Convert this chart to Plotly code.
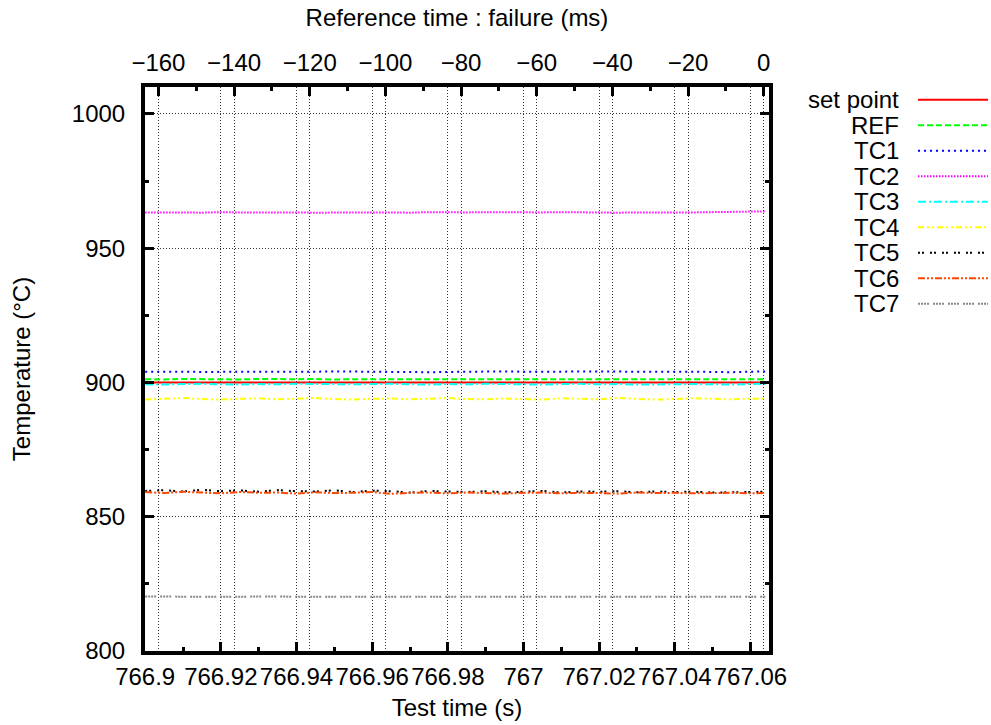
import plotly.graph_objects as go

# ---------------- data ----------------
test_time_s = [766.900, 766.905, 766.910, 766.915, 766.920, 766.925, 766.930, 766.935,
               766.940, 766.945, 766.950, 766.955, 766.960, 766.965, 766.970, 766.975,
               766.980, 766.985, 766.990, 766.995, 767.000, 767.005, 767.010, 767.015,
               767.020, 767.025, 767.030, 767.035, 767.040, 767.045, 767.050, 767.055,
               767.060, 767.064]
failure_time_s = 767.0635

set_point = [900.0] * 34
ref = [901.2, 901.1, 901.3, 901.2, 901.2, 901.1, 901.3, 901.2, 901.2, 901.3, 901.1, 901.2,
       901.2, 901.3, 901.2, 901.1, 901.2, 901.3, 901.2, 901.2, 901.1, 901.2, 901.3, 901.2,
       901.2, 901.1, 901.3, 901.2, 901.2, 901.3, 901.2, 901.1, 901.2, 901.2]
tc1 = [904.0, 904.1, 904.0, 903.9, 904.0, 904.1, 904.0, 904.0, 903.9, 904.0, 904.1, 904.0,
       903.9, 903.8, 903.7, 903.8, 903.9, 904.0, 904.0, 904.1, 904.0, 903.9, 904.0, 904.1,
       904.0, 903.9, 904.0, 904.0, 904.1, 904.0, 903.9, 903.8, 904.0, 904.1]
tc2 = [963.3, 963.4, 963.3, 963.2, 963.4, 963.3, 963.3, 963.5, 963.3, 963.2, 963.3, 963.4,
       963.3, 963.3, 963.2, 963.4, 963.3, 963.3, 963.4, 963.3, 963.2, 963.3, 963.4, 963.3,
       963.3, 963.2, 963.3, 963.4, 963.3, 963.3, 963.4, 963.5, 963.6, 963.7]
tc3 = [899.3, 899.2, 899.4, 899.5, 899.3, 899.2, 899.4, 899.3, 899.5, 899.4, 899.2, 899.3,
       899.4, 899.5, 899.3, 899.2, 899.4, 899.3, 899.5, 899.4, 899.3, 899.2, 899.4, 899.5,
       899.3, 899.4, 899.2, 899.3, 899.5, 899.4, 899.3, 899.2, 899.4, 899.5]
tc4 = [893.6, 893.9, 894.2, 893.8, 893.6, 893.9, 894.1, 893.7, 893.9, 894.2, 893.8, 893.6,
       893.9, 894.0, 893.7, 893.9, 894.2, 893.8, 893.7, 894.0, 893.8, 893.6, 894.1, 893.9,
       893.7, 894.2, 893.9, 893.6, 893.8, 894.1, 893.9, 893.7, 893.9, 894.0]
tc5 = [859.6, 859.9, 859.4, 860.0, 859.5, 859.8, 859.3, 859.9, 859.5, 859.4, 859.8, 859.2,
       859.7, 859.5, 859.0, 859.6, 859.4, 859.2, 859.5, 859.1, 859.3, 859.6, 859.0, 859.4,
       859.3, 859.5, 859.1, 859.4, 859.2, 859.3, 859.0, 859.2, 859.4, 859.3]
tc6 = [859.2, 858.8, 859.3, 859.0, 858.7, 859.2, 858.9, 859.0, 858.6, 859.1, 858.8, 858.9,
       859.2, 858.5, 858.9, 859.0, 858.7, 859.0, 858.8, 858.6, 858.9, 859.0, 858.7, 858.9,
       858.8, 858.6, 859.0, 858.8, 858.9, 858.7, 858.8, 858.9, 858.7, 858.8]
tc7 = [820.3, 820.2, 820.3, 820.2, 820.2, 820.3, 820.2, 820.3, 820.2, 820.2, 820.3, 820.2,
       820.2, 820.3, 820.2, 820.2, 820.3, 820.2, 820.3, 820.2, 820.2, 820.3, 820.2, 820.2,
       820.3, 820.2, 820.3, 820.2, 820.2, 820.3, 820.2, 820.2, 820.3, 820.2]

series_names = ["set point", "REF", "TC1", "TC2", "TC3", "TC4", "TC5", "TC6", "TC7"]
series_values = [set_point, ref, tc1, tc2, tc3, tc4, tc5, tc6, tc7]

bottom_tick_vals = [766.90, 766.92, 766.94, 766.96, 766.98, 767.00, 767.02, 767.04, 767.06]
bottom_tick_text = ["766.9", "766.92", "766.94", "766.96", "766.98", "767", "767.02", "767.04", "767.06"]
top_tick_vals = [-160, -140, -120, -100, -80, -60, -40, -20, 0]
top_tick_text = ["\u2212160", "\u2212140", "\u2212120", "\u2212100", "\u221280", "\u221260",
                 "\u221240", "\u221220", "0"]
y_tick_vals = [800, 850, 900, 950, 1000]

# ---------------- styles ----------------
colors = ["#ff0000", "#00ff00", "#0000ff", "#ff00ff", "#00ffff", "#ffff00", "#000000",
          "#ff4500", "#888888"]
dashes = ["solid", "6px,3px", "2px,4px", "1.5px,1.5px", "8px,3px,2px,3px",
          "6px,3px,2px,3px,2px,3px", "2px,2px,2px,6px", "7px,2px,2px,2px,2px,2px",
          "2px,1px,2px,1px,2px,1px,2px,4px"]

FONT = "Liberation Sans, Arial, Helvetica, sans-serif"
FS = 24

x_range = [766.89995, 767.0649]
ms_range = [(x_range[0] - failure_time_s) * 1000, (x_range[1] - failure_time_s) * 1000]

fig = go.Figure()
for name, vals, col, dsh in zip(series_names, series_values, colors, dashes):
    fig.add_trace(go.Scatter(x=test_time_s, y=vals, mode="lines", name=name,
                             line=dict(color=col, width=2, dash=dsh),
                             showlegend=False, xaxis="x", yaxis="y"))

# trace on the top (reference-time) axis so it renders
ref_ms = [(t - failure_time_s) * 1000 for t in test_time_s]
fig.add_trace(go.Scatter(x=ref_ms, y=set_point, mode="lines", line=dict(width=0, color="rgba(0,0,0,0)"),
                         hoverinfo="skip", showlegend=False, xaxis="x2", yaxis="y"))

# ---------------- legend (gnuplot style: text left, sample right) ----------------
L, R, T, B = 145, 222, 87, 74
W = 991 - L - R
H = 725 - T - B
def px_x(p):
    return (p - L) / W
def px_y(p):
    return (725 - B - p) / H

for i, (name, col, dsh) in enumerate(zip(series_names, colors, dashes)):
    py = 99.7 + 25.5 * i
    fig.add_annotation(x=px_x(901), y=px_y(py), xref="paper", yref="paper",
                       text=name, showarrow=False, xanchor="right", yanchor="middle",
                       font=dict(family=FONT, size=FS, color="black"))
    fig.add_shape(type="line", xref="paper", yref="paper",
                  x0=px_x(918), x1=px_x(988), y0=px_y(py), y1=px_y(py),
                  line=dict(color=col, width=2, dash=dsh))

grid_col = "#333333"
grid_dash = "1px,2px"
fig.update_layout(
    width=991, height=725,
    margin=dict(l=L, r=R, t=T, b=B, autoexpand=False),
    paper_bgcolor="white", plot_bgcolor="white",
    font=dict(family=FONT, size=FS, color="black"),
    showlegend=False,
    xaxis=dict(
        range=x_range, tickmode="array", tickvals=bottom_tick_vals, ticktext=bottom_tick_text,
        ticks="inside", ticklen=9, tickwidth=3, tickcolor="black",
        minor=dict(dtick=0.01, tick0=766.9, ticks="inside", ticklen=4, tickwidth=3,
                   tickcolor="black", showgrid=False),
        showline=True, linecolor="black", linewidth=4, mirror=True,
        showgrid=True, gridcolor=grid_col, griddash=grid_dash, gridwidth=1,
        zeroline=False, ticklabelstandoff=1,
        title=dict(text="Test time (s)", standoff=11, font=dict(size=FS)),
        automargin=False,
    ),
    xaxis2=dict(
        range=ms_range, overlaying="x", side="top", anchor="y",
        tickmode="array", tickvals=top_tick_vals, ticktext=top_tick_text,
        ticks="inside", ticklen=9, tickwidth=3, tickcolor="black",
        minor=dict(dtick=10, tick0=-160, ticks="inside", ticklen=4, tickwidth=3,
                   tickcolor="black", showgrid=False),
        showline=False,
        showgrid=True, gridcolor=grid_col, griddash=grid_dash, gridwidth=1,
        zeroline=False, ticklabelstandoff=10,
        title=dict(text="Reference time : failure (ms)", standoff=15, font=dict(size=FS)),
        automargin=False,
    ),
    yaxis=dict(
        range=[800, 1010], tickmode="array", tickvals=y_tick_vals,
        ticks="inside", ticklen=9, tickwidth=3, tickcolor="black",
        minor=dict(dtick=25, tick0=800, ticks="inside", ticklen=4, tickwidth=3,
                   tickcolor="black", showgrid=False),
        showline=True, linecolor="black", linewidth=4, mirror="ticks",
        showgrid=True, gridcolor=grid_col, griddash=grid_dash, gridwidth=1,
        zeroline=False, ticklabelstandoff=11,
        title=dict(text="Temperature (\u00b0C)", standoff=35, font=dict(size=FS)),
        automargin=False,
    ),
)

fig.write_html("out.html", config={"displayModeBar": False},
               post_script="document.body.style.margin='0px';document.body.style.padding='0px';")
